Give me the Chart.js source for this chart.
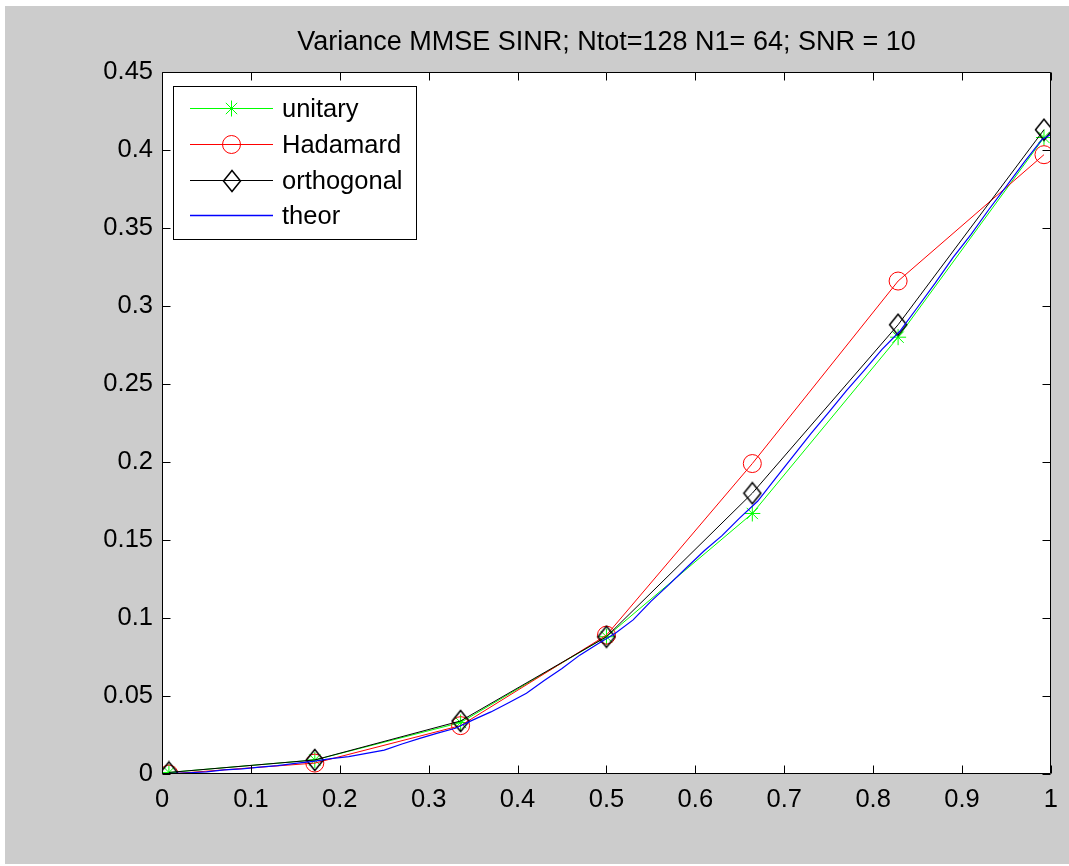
<!DOCTYPE html>
<html><head><meta charset="utf-8">
<script src="https://cdn.jsdelivr.net/npm/chart.js@4.4.1/dist/chart.umd.min.js"></script>
<style>
html,body{margin:0;padding:0;background:#ffffff;overflow:hidden;}
#bg{position:absolute;left:5px;top:6px;width:1064px;height:858px;background:#cccccc;}
#wrap{position:absolute;left:0;top:0;width:1069px;height:866px;}
</style></head><body>
<div id="bg"></div>
<div id="wrap"><canvas id="c" width="1069" height="866"></canvas></div>
<script>
const titleText = 'Variance MMSE SINR; Ntot=128 N1= 64; SNR = 10';
const seriesNames = ['unitary', 'Hadamard', 'orthogonal', 'theor'];
const seriesColors = ['#00ff00', '#ff0000', '#000000', '#0000ff'];
const xMarkers = [0.0078, 0.1719, 0.3359, 0.5, 0.6641, 0.8281, 0.9922];
const unitary = [0.001, 0.009, 0.033, 0.088, 0.167, 0.280, 0.408];
const hadamard = [0.000, 0.007, 0.031, 0.089, 0.199, 0.316, 0.397];
const orthogonal = [0.001, 0.009, 0.034, 0.088, 0.180, 0.288, 0.413];
const theorX = [0.0078, 0.03, 0.05, 0.07, 0.09, 0.11, 0.13, 0.15, 0.17, 0.19, 0.21, 0.23, 0.25, 0.27, 0.29,
  0.31, 0.33, 0.35, 0.37, 0.39, 0.41, 0.43, 0.45, 0.47, 0.49, 0.51, 0.53, 0.55, 0.57, 0.59, 0.61, 0.63,
  0.65, 0.67, 0.69, 0.71, 0.73, 0.75, 0.77, 0.79, 0.81, 0.83, 0.85, 0.87, 0.89, 0.91, 0.93, 0.95, 0.97, 0.99, 1.0];
const theorY = [0.0003, 0.0008, 0.0014, 0.0026, 0.0033, 0.0044, 0.0054, 0.0068, 0.0081, 0.0098, 0.0111, 0.0132, 0.0153, 0.0192, 0.0228,
  0.0262, 0.0293, 0.0347, 0.0398, 0.0457, 0.0518, 0.0600, 0.0676, 0.0762, 0.0833, 0.0902, 0.0988, 0.1107, 0.1212, 0.1322, 0.1431, 0.1528,
  0.1642, 0.1748, 0.1893, 0.2038, 0.2182, 0.2318, 0.2457, 0.2588, 0.2722, 0.2838, 0.2992, 0.3148, 0.3312, 0.3458, 0.3617, 0.3768, 0.3922, 0.4068, 0.4100];
const xTicks = [0, 0.1, 0.2, 0.3, 0.4, 0.5, 0.6, 0.7, 0.8, 0.9, 1];
const xTickLabels = ['0', '0.1', '0.2', '0.3', '0.4', '0.5', '0.6', '0.7', '0.8', '0.9', '1'];
const yTicks = [0, 0.05, 0.1, 0.15, 0.2, 0.25, 0.3, 0.35, 0.4, 0.45];
const yTickLabels = ['0', '0.05', '0.1', '0.15', '0.2', '0.25', '0.3', '0.35', '0.4', '0.45'];

const FONT = '"Liberation Sans", Arial, Helvetica, sans-serif';

// MATLAB-like diamond marker (taller than wide)
function makeDiamond() {
  const cv = document.createElement('canvas');
  cv.width = 20; cv.height = 24;
  const g = cv.getContext('2d');
  g.strokeStyle = '#000'; g.lineWidth = 1.5;
  g.beginPath();
  g.moveTo(10, 1.5); g.lineTo(18.5, 12); g.lineTo(10, 22.5); g.lineTo(1.5, 12); g.closePath();
  g.stroke();
  return cv;
}
const diamond = makeDiamond();

const pts = (xs, ys) => xs.map((x, i) => ({x: x, y: ys[i]}));

const datasets = [
  {label: seriesNames[0], data: pts(xMarkers, unitary), borderColor: seriesColors[0], backgroundColor: 'rgba(0,0,0,0)',
   borderWidth: 1, pointStyle: 'star', pointRadius: 8, pointBorderWidth: 1, pointBorderColor: seriesColors[0], order: 3},
  {label: seriesNames[1], data: pts(xMarkers, hadamard), borderColor: seriesColors[1], backgroundColor: 'rgba(0,0,0,0)',
   borderWidth: 1, pointStyle: 'circle', pointRadius: 9, pointBorderWidth: 1, pointBorderColor: seriesColors[1], order: 2},
  {label: seriesNames[2], data: pts(xMarkers, orthogonal), borderColor: seriesColors[2], backgroundColor: 'rgba(0,0,0,0)',
   borderWidth: 1, pointStyle: diamond, pointRadius: 10, order: 1},
  {label: seriesNames[3], data: pts(theorX, theorY), borderColor: seriesColors[3], backgroundColor: 'rgba(0,0,0,0)',
   borderWidth: 1.2, pointRadius: 0, order: 0}
];

const whiteArea = {
  id: 'whiteArea',
  beforeDraw(chart) {
    const {ctx, chartArea: a} = chart;
    ctx.save(); ctx.fillStyle = '#ffffff';
    ctx.fillRect(a.left, a.top, a.right - a.left, a.bottom - a.top);
    ctx.fillStyle = '#000';
    ctx.font = '27px ' + FONT;
    ctx.textAlign = 'center'; ctx.textBaseline = 'middle';
    ctx.fillText(titleText, (a.left + a.right) / 2, 43);
    ctx.restore();
  }
};

const frame = {
  id: 'frame',
  afterDatasetsDraw(chart) {
    const {ctx, chartArea: a, scales} = chart;
    const L = Math.round(a.left) + 0.5, R = Math.round(a.right) - 0.5;
    const T = Math.round(a.top) + 0.5, B = Math.round(a.bottom) - 0.5;
    ctx.save();
    ctx.strokeStyle = '#000'; ctx.lineWidth = 1;
    ctx.beginPath();
    ctx.rect(L, T, R - L, B - T);
    const tl = 8;
    xTicks.forEach(v => {
      const px = Math.round(scales.x.getPixelForValue(v)) + 0.5;
      ctx.moveTo(px, B); ctx.lineTo(px, B - tl);
      ctx.moveTo(px, T); ctx.lineTo(px, T + tl);
    });
    yTicks.forEach(v => {
      const py = Math.round(scales.y.getPixelForValue(v)) + 0.5;
      ctx.moveTo(L, py); ctx.lineTo(L + tl, py);
      ctx.moveTo(R, py); ctx.lineTo(R - tl, py);
    });
    ctx.stroke();
    ctx.restore();
  }
};

function drawMarker(ctx, ds, color, x, y) {
  if (ds.pointRadius === 0) return;
  if (ds.pointStyle instanceof HTMLCanvasElement) {
    ctx.drawImage(ds.pointStyle, Math.round(x - ds.pointStyle.width / 2), Math.round(y - ds.pointStyle.height / 2));
    return;
  }
  const opts = {pointStyle: ds.pointStyle, radius: ds.pointRadius, rotation: 0, borderWidth: 1};
  ctx.save();
  ctx.strokeStyle = color; ctx.fillStyle = 'rgba(0,0,0,0)'; ctx.lineWidth = 1;
  if (Chart.helpers && Chart.helpers.drawPoint) {
    Chart.helpers.drawPoint(ctx, opts, x, y);
  } else {
    ctx.beginPath();
    ctx.arc(x, y, ds.pointRadius, 0, Math.PI * 2);
    ctx.stroke();
  }
  ctx.restore();
}

const legendBox = {
  id: 'legendBox',
  afterDraw(chart) {
    const ctx = chart.ctx;
    const bx = 173.5, by = 86.5, bw = 243, bh = 153;
    ctx.save();
    ctx.fillStyle = '#fff'; ctx.strokeStyle = '#000'; ctx.lineWidth = 1;
    ctx.fillRect(bx, by, bw, bh);
    ctx.strokeRect(bx, by, bw, bh);
    const rows = [108.5, 144.5, 180.5, 215.5];
    chart.data.datasets.forEach((ds, i) => {
      const y = rows[i];
      const col = seriesColors[i];
      ctx.beginPath();
      ctx.strokeStyle = col; ctx.lineWidth = i === 3 ? 1.5 : 1;
      ctx.moveTo(190, y); ctx.lineTo(273, y); ctx.stroke();
      drawMarker(ctx, ds, col, 231.5, y);
      ctx.fillStyle = '#000';
      ctx.font = '25.5px ' + FONT;
      ctx.textAlign = 'left'; ctx.textBaseline = 'middle';
      ctx.fillText(ds.label, 282, y + 1);
    });
    ctx.restore();
  }
};

new Chart(document.getElementById('c'), {
  type: 'line',
  data: {datasets: datasets},
  options: {
    responsive: false,
    animation: false,
    devicePixelRatio: 1,
    layout: {padding: {left: 0, right: 15, top: 72, bottom: 0}},
    elements: {line: {tension: 0}},
    plugins: {
      legend: {display: false},
      tooltip: {enabled: false},
      title: {display: false}
    },
    scales: {
      x: {
        type: 'linear', min: 0, max: 1,
        afterBuildTicks(s) { s.ticks = xTicks.map(v => ({value: v})); },
        afterFit(s) { s.height = 92; },
        ticks: {
          callback: (v, i) => xTickLabels[i], color: '#000', padding: 11,
          font: {family: FONT, size: 25.5}, maxRotation: 0, autoSkip: false
        },
        grid: {display: false, drawTicks: false},
        border: {display: false}
      },
      y: {
        type: 'linear', min: 0, max: 0.45,
        afterBuildTicks(s) { s.ticks = yTicks.map(v => ({value: v})); },
        afterFit(s) { s.width = 162; },
        ticks: {
          callback: (v, i) => yTickLabels[i], color: '#000', padding: 9,
          font: {family: FONT, size: 25.5}, autoSkip: false
        },
        grid: {display: false, drawTicks: false},
        border: {display: false}
      }
    }
  },
  plugins: [whiteArea, frame, legendBox]
});
</script>
</body></html>
